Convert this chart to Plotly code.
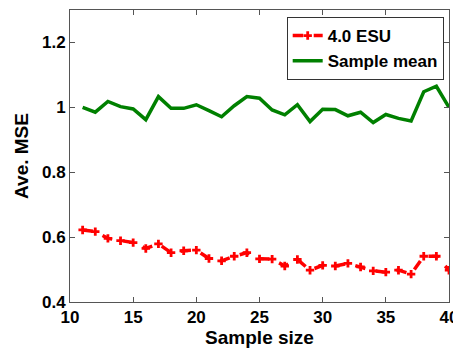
import plotly.graph_objects as go

sample_size = list(range(11, 41))
esu_40 = [0.622, 0.617, 0.596, 0.589, 0.583, 0.565, 0.579, 0.552, 0.558, 0.560,
          0.534, 0.527, 0.541, 0.552, 0.533, 0.532, 0.511, 0.531, 0.498, 0.513,
          0.511, 0.519, 0.508, 0.496, 0.492, 0.498, 0.486, 0.541, 0.541, 0.498]
sample_mean = [1.000, 0.985, 1.018, 1.002, 0.995, 0.962, 1.033, 0.997, 0.997, 1.008,
               0.990, 0.971, 1.005, 1.033, 1.028, 0.992, 0.977, 1.008, 0.956, 0.994,
               0.993, 0.974, 0.985, 0.953, 0.978, 0.966, 0.958, 1.048, 1.065, 1.000]

font_family = "Liberation Sans, Arial, sans-serif"

fig = go.Figure()
fig.add_trace(go.Scatter(
    x=sample_size, y=esu_40, name="4.0 ESU", mode="lines+markers",
    line=dict(color="#ff0000", width=3.5, dash="dash"),
    marker=dict(symbol="cross", size=7, color="#ff0000"),
))
fig.add_trace(go.Scatter(
    x=sample_size, y=sample_mean, name="Sample mean", mode="lines",
    line=dict(color="#008000", width=3.5),
))

axis_common = dict(
    showline=True, linecolor="#555555", linewidth=1, mirror="ticks",
    ticks="inside", ticklen=5, tickcolor="#555555",
    showgrid=False, zeroline=False, automargin=False,
    tickfont=dict(family=font_family, size=17, color="black", weight="bold"),
)

fig.update_layout(
    width=461, height=350,
    margin=dict(l=62, r=20, t=2, b=56),
    paper_bgcolor="white", plot_bgcolor="white",
    font=dict(family=font_family, color="black"),
    showlegend=True,
    legend=dict(
        x=0.986, y=0.976, xanchor="right", yanchor="top",
        bordercolor="#333333", borderwidth=1, bgcolor="white",
        font=dict(family=font_family, size=17, color="black", weight="bold"),
        tracegroupgap=0, itemwidth=30,
    ),
    xaxis=dict(range=[10, 40], tickvals=[10, 15, 20, 25, 30, 35, 40],
               title=dict(text="Sample size", standoff=4,
                          font=dict(family=font_family, size=19, weight="bold")),
               **axis_common),
    yaxis=dict(range=[0.4, 1.3], tickvals=[0.4, 0.6, 0.8, 1.0, 1.2],
               ticktext=["0.4", "0.6", "0.8", "1", "1.2"],
               title=dict(text="Ave. MSE", standoff=8,
                          font=dict(family=font_family, size=19, weight="bold")),
               **axis_common),
)

fig.write_html("out.html")
